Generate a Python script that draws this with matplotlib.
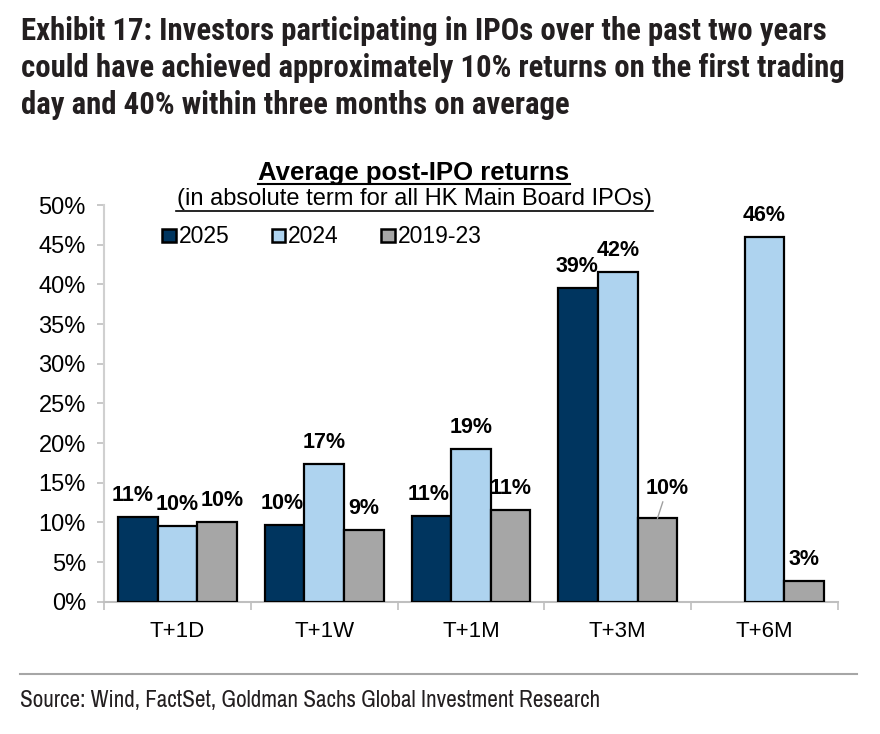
import matplotlib
matplotlib.use("Agg")
import matplotlib.pyplot as plt
from matplotlib.patches import Patch
from matplotlib import font_manager
import numpy as np

categories = ["T+1D", "T+1W", "T+1M", "T+3M", "T+6M"]
series_names = ["2025", "2024", "2019-23"]
v2025 = [10.7, 9.7, 10.8, 39.5, np.nan]
v2024 = [9.5, 17.3, 19.2, 41.6, 46.0]
v2019_23 = [10.0, 9.0, 11.5, 10.5, 2.6]
labels2025 = ["11%", "10%", "11%", "39%", ""]
labels2024 = ["10%", "17%", "19%", "42%", "46%"]
labels2019_23 = ["10%", "9%", "11%", "10%", "3%"]
yticks = [0, 5, 10, 15, 20, 25, 30, 35, 40, 45, 50]
title_lines = ["Exhibit 17: Investors participating in IPOs over the past two years",
               "could have achieved approximately 10% returns on the first trading",
               "day and 40% within three months on average"]
chart_title = "Average post-IPO returns"
chart_subtitle = "(in absolute term for all HK Main Board IPOs)"
source = "Source: Wind, FactSet, Goldman Sachs Global Investment Research"

colors = ["#00355f", "#aed3ef", "#a6a6a6"]
BASE = ["Liberation Sans", "DejaVu Sans"]
plt.rcParams["font.family"] = BASE

# pick a narrow family that has a bold face, if any is present
flist = font_manager.fontManager.ttflist
def has_bold(name):
    return any(f.name == name and (f.weight in ("bold", 700) or
               (isinstance(f.weight, int) and f.weight >= 650)) for f in flist)
def has_face(name):
    return any(f.name == name for f in flist)
bold_family = None
for cand in ["Archivo Narrow", "Roboto Condensed", "Asap Condensed", "Barlow Semi Condensed",
             "Barlow Condensed"]:
    if has_bold(cand):
        bold_family = cand
        break
reg_family = None
for cand in ["Archivo Narrow", "Roboto Condensed", "Asap Condensed", "Barlow Semi Condensed"]:
    if has_face(cand):
        reg_family = cand
        break
TITLE_FAM = [bold_family, "DejaVu Sans"] if bold_family else ["DejaVu Sans"]
TITLE_STRETCH = "normal" if bold_family else "condensed"
SRC_FAM = [reg_family, "DejaVu Sans"] if reg_family else ["DejaVu Sans"]
SRC_STRETCH = "normal" if reg_family else "condensed"

fig = plt.figure(figsize=(8.8, 7.34), dpi=100)
W, H = 880, 734
ax = fig.add_axes([104 / W, 1 - 601.7 / H, (838 - 104) / W, (601.7 - 205) / H])

x = np.arange(len(categories))
bw = 0.27
all_vals = [v2025, v2024, v2019_23]
all_labels = [labels2025, labels2024, labels2019_23]
bars = []
for k, (vals, col) in enumerate(zip(all_vals, colors)):
    b = ax.bar(x + (k - 1) * bw, vals, width=bw, color=col, edgecolor="black",
               linewidth=1.6, zorder=3)
    bars.append(b)

# data labels
xoff = {(0, 0): -4, (0, 2): 4, (1, 0): -2, (2, 0): -2, (3, 0): -1}
for k in range(3):
    for i, rect in enumerate(bars[k]):
        lab = all_labels[k][i]
        val = all_vals[k][i]
        if not lab or np.isnan(val):
            continue
        cx = rect.get_x() + rect.get_width() / 2
        dx = xoff.get((i, k), 0)
        if (i, k) == (3, 2):
            ax.annotate(lab, xy=(cx, val), xytext=(7, 14), textcoords="offset points",
                        ha="center", va="bottom", fontsize=15.5, fontweight="bold",
                        arrowprops=dict(arrowstyle="-", color="#a0a0a0", lw=1,
                                        shrinkA=0, shrinkB=0))
            continue
        ax.annotate(lab, xy=(cx, val), xytext=(dx, 8), textcoords="offset points",
                    ha="center", va="bottom", fontsize=15.5, fontweight="bold")

ax.set_xlim(-0.5, len(categories) - 0.5)
ax.set_ylim(0, 50)
ax.set_yticks(yticks)
ax.set_yticklabels([f"{t}%" for t in yticks], fontsize=17)
ax.set_xticks(x)
ax.set_xticklabels(categories, fontsize=16)
ax.set_xticks(np.arange(-0.5, len(categories)), minor=True)
ax.tick_params(axis="x", which="major", length=0, pad=14)
ax.tick_params(axis="x", which="minor", length=6, color="#bfbfbf", width=1.2)
ax.tick_params(axis="y", length=5, color="#bfbfbf", width=1.2, pad=8)
for s in ["top", "right"]:
    ax.spines[s].set_visible(False)
ax.spines["left"].set_color("#d0d0d0")
ax.spines["left"].set_linewidth(1.5)
ax.spines["bottom"].set_color("#bfbfbf")
ax.spines["bottom"].set_linewidth(1.5)

handles = [Patch(facecolor=c, edgecolor="black", linewidth=1.8) for c in colors]
leg = ax.legend(handles, series_names, loc="center left",
                bbox_to_anchor=((162 - 104) / 734, (601.7 - 237) / 396.7),
                ncol=3, frameon=False, fontsize=16.5, handlelength=0.6, handleheight=0.52,
                handletextpad=0.12, columnspacing=1.85, borderaxespad=0, borderpad=0)

# chart titles
fig.text(414 / W, 1 - 173 / H, chart_title, ha="center", va="center",
         fontsize=18.5, fontweight="bold")
fig.text(414 / W, 1 - 199 / H, chart_subtitle, ha="center", va="center", fontsize=17)
fig.add_artist(plt.Line2D([258 / W, 570 / W], [1 - 184 / H] * 2, color="black", lw=1.5))
fig.add_artist(plt.Line2D([176 / W, 653 / W], [1 - 211 / H] * 2, color="black", lw=1.2))

# exhibit title
tts = []
for j, line in enumerate(title_lines):
    tt = fig.text(21 / W, 1 - (40 + 37 * j) / H, line, ha="left", va="baseline",
                  fontsize=22, fontweight="bold", family=TITLE_FAM, fontstretch=TITLE_STRETCH,
                  color="#231f20")
    tts.append(tt)

# separator and source
fig.add_artist(plt.Line2D([20 / W, 857 / W], [1 - 674 / H] * 2, color="#a6a6a6", lw=1.5))
s = fig.text(20 / W, 1 - 700 / H, source, ha="left", va="center", fontsize=14,
             family=SRC_FAM, fontstretch=SRC_STRETCH, color="#231f20")

# fit title and source widths to reference widths
fig.canvas.draw()
r = fig.canvas.get_renderer()
tw = tts[0].get_window_extent(r).width
for tt in tts:
    tt.set_fontsize(22 * 805 / tw)
sw = s.get_window_extent(r).width
s.set_fontsize(14 * 580 / sw)

fig.savefig("out.png", dpi=100)
